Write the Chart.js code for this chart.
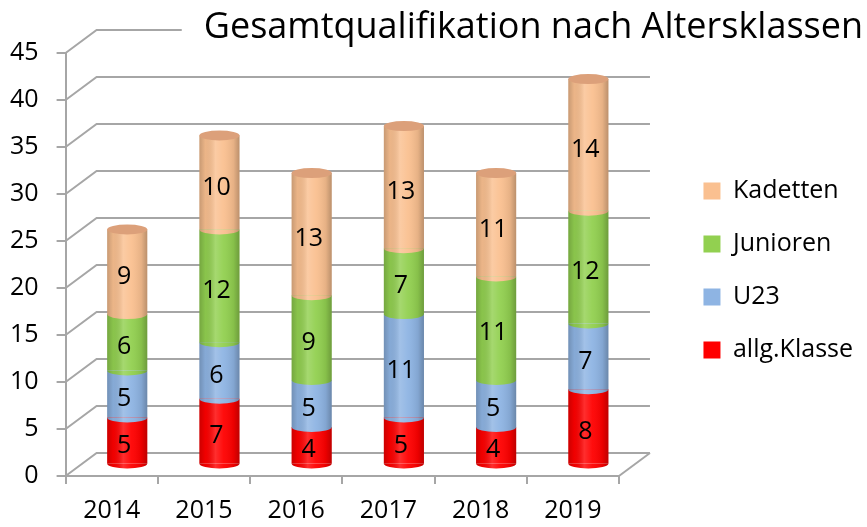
<!DOCTYPE html>
<html><head><meta charset="utf-8">
<script src="https://cdn.jsdelivr.net/npm/chart.js@4.4.1/dist/chart.umd.min.js"></script>
<style>html,body{margin:0;padding:0;background:#fff}#wrap{width:867px;height:527px}</style>
</head><body><div id="wrap"><canvas id="c" width="867" height="527"></canvas></div>
<script>
const categories = ['2014', '2015', '2016', '2017', '2018', '2019'];
const allgKlasse = [5, 7, 4, 5, 4, 8];
const u23 = [5, 6, 5, 11, 5, 7];
const junioren = [6, 12, 9, 7, 11, 12];
const kadetten = [9, 10, 13, 13, 11, 14];
const seriesNames = ['allg.Klasse', 'U23', 'Junioren', 'Kadetten'];
const seriesColors = ['#FF0000', '#8EB4E3', '#92D050', '#FAC090'];
const yTicks = [0, 5, 10, 15, 20, 25, 30, 35, 40, 45];
const titleText = 'Gesamtqualifikation nach Altersklassen';

const FONT = "'Open Sans', 'DejaVu Sans', sans-serif";
const GRID = '#A6A6A6';
const DX = 31, DY = -23, RY = 5;
const CAP = '#DCA07A';
const TITLE_SIZE = 36;
const TICK_SIZE = 25;

const threeD = {
  id: 'threeD',
  beforeDatasetsDraw(chart) {
    const { ctx, chartArea, scales } = chart;
    const y = scales.y;
    const t = chart.titleBlock;
    ctx.save();
    ctx.font = `normal ${TITLE_SIZE}px ${FONT}`;
    const tw = ctx.measureText(titleText).width;
    const titleLeft = t.right - tw;
    ctx.strokeStyle = GRID;
    ctx.lineWidth = 2;
    y.ticks.forEach(tk => {
      const py = y.getPixelForValue(tk.value);
      let endX = chartArea.right + DX;
      if (py + DY < t.bottom) endX = Math.min(endX, titleLeft - 22);
      ctx.beginPath();
      ctx.moveTo(chartArea.left, py);
      ctx.lineTo(chartArea.left + DX, py + DY);
      ctx.lineTo(endX, py + DY);
      ctx.stroke();
    });
    const by = y.getPixelForValue(0);
    ctx.beginPath();
    ctx.moveTo(chartArea.right, by);
    ctx.lineTo(chartArea.right + DX, by + DY);
    ctx.stroke();
    ctx.restore();
    ctx.save();
    ctx.translate(DX / 2, DY / 2);
  },
  afterDatasetsDraw(chart) {
    const { ctx } = chart;
    const metas = chart.getSortedVisibleDatasetMetas();
    const n = chart.data.labels.length;
    for (let i = 0; i < n; i++) {
      let topY = Infinity, baseY = -Infinity, cx = 0, rx = 0;
      metas.forEach((meta, d) => {
        const el = meta.data[i];
        const p = el.getProps(['x', 'y', 'base', 'width'], true);
        rx = p.width / 2; cx = p.x;
        topY = Math.min(topY, p.y); baseY = Math.max(baseY, p.base);
        ctx.fillStyle = seriesColors[d];
        ctx.beginPath();
        ctx.ellipse(p.x, p.base, rx, RY, 0, 0, Math.PI);
        ctx.fill();
      });
      const g = ctx.createLinearGradient(cx - rx, 0, cx + rx, 0);
      g.addColorStop(0, 'rgba(0,0,0,0.20)');
      g.addColorStop(0.15, 'rgba(0,0,0,0.06)');
      g.addColorStop(0.4, 'rgba(255,255,255,0.18)');
      g.addColorStop(0.6, 'rgba(255,255,255,0.05)');
      g.addColorStop(0.85, 'rgba(0,0,0,0.08)');
      g.addColorStop(1, 'rgba(0,0,0,0.25)');
      ctx.fillStyle = g;
      ctx.beginPath();
      ctx.moveTo(cx - rx, topY);
      ctx.lineTo(cx + rx, topY);
      ctx.lineTo(cx + rx, baseY);
      ctx.ellipse(cx, baseY, rx, RY, 0, 0, Math.PI);
      ctx.closePath();
      ctx.fill();
      ctx.fillStyle = CAP;
      ctx.beginPath();
      ctx.ellipse(cx, topY, rx, RY, 0, 0, Math.PI * 2);
      ctx.fill();
    }
    ctx.fillStyle = '#000';
    ctx.font = `normal 25px ${FONT}`;
    ctx.textAlign = 'center';
    ctx.textBaseline = 'middle';
    metas.forEach(meta => {
      const ds = chart.data.datasets[meta.index];
      meta.data.forEach((el, i) => {
        const p = el.getProps(['x', 'y', 'base'], true);
        ctx.fillText(String(ds.data[i]), p.x - 3, (p.y + p.base) / 2 + 5);
      });
    });
    ctx.restore();
  }
};

const seriesData = [allgKlasse, u23, junioren, kadetten];

new Chart(document.getElementById('c'), {
  type: 'bar',
  data: {
    labels: categories,
    datasets: seriesNames.map((name, k) => ({
      label: name,
      data: seriesData[k],
      backgroundColor: seriesColors[k],
      borderWidth: 0,
      categoryPercentage: 1,
      barPercentage: 0.435
    }))
  },
  options: {
    responsive: false,
    devicePixelRatio: 1,
    animation: false,
    layout: { padding: { left: 10, right: 4, top: 0, bottom: 1 } },
    plugins: {
      tooltip: { enabled: false },
      title: {
        display: true, text: titleText, align: 'end', color: '#000',
        font: { family: FONT, size: TITLE_SIZE, weight: 'normal', lineHeight: 1.2 },
        padding: { top: 6, bottom: 3.8 }
      },
      legend: {
        position: 'right', reverse: true, maxWidth: 260,
        title: { display: true, text: ' ', padding: 0, font: { family: FONT, size: 12, lineHeight: 41 / 12 } },
        labels: {
          boxWidth: 17, boxHeight: 17, padding: 2, color: '#000',
          font: { family: FONT, size: 25, lineHeight: 51 / 25 },
          generateLabels(chart) {
            const items = Chart.defaults.plugins.legend.labels.generateLabels(chart);
            items.forEach(it => { it.text = [it.text]; it.lineWidth = 0; });
            return items;
          }
        }
      }
    },
    scales: {
      x: {
        stacked: true,
        afterFit: s => { s.height = 8 + 12 + TICK_SIZE * 1.2; },
        grid: { drawOnChartArea: false, drawTicks: true, tickLength: 8, color: GRID, lineWidth: 2, offset: true },
        border: { display: true, color: GRID, width: 2 },
        ticks: { color: '#000', font: { family: FONT, size: TICK_SIZE }, padding: 12, maxRotation: 0 }
      },
      y: {
        stacked: true, min: 0, max: 45,
        afterBuildTicks: s => { s.ticks = yTicks.map(v => ({ value: v })); },
        afterFit: s => { s.width = 9 + 18 + 28.6; },
        grid: { drawOnChartArea: false, drawTicks: true, tickLength: 9, color: GRID, lineWidth: 2 },
        border: { display: true, color: GRID, width: 2 },
        ticks: { color: '#000', font: { family: FONT, size: TICK_SIZE }, padding: 18 }
      },
      yPad: {
        type: 'linear', position: 'right', display: true,
        grid: { display: false }, border: { display: false }, ticks: { display: false },
        afterFit: s => { s.width = 82.5; }
      }
    }
  },
  plugins: [threeD]
});
</script>
</body></html>
